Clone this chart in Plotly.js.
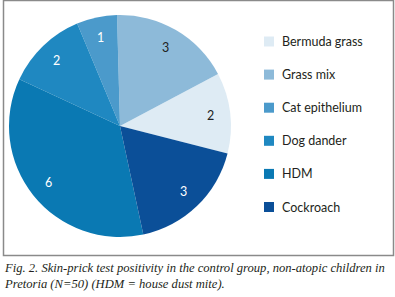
<!DOCTYPE html>
<html>
<head>
<meta charset="utf-8">
<script src="https://cdn.plot.ly/plotly-3.0.1.min.js"></script>
<style>html,body{margin:0;padding:0;background:#fff;}#chart{width:395px;height:297px;}</style>
</head>
<body>
<div id="chart"></div>
<script>
// Data (legend order, drawn counterclockwise)
const labels = ["Bermuda grass", "Grass mix", "Cat epithelium", "Dog dander", "HDM", "Cockroach"];
const values = [2, 3, 1, 2, 6, 3];
const colors = ["#deebf4", "#8dbad9", "#4b9acb", "#1f88c1", "#0a79b3", "#0b4f98"];
const textColors = ["#222222", "#222222", "#ffffff", "#ffffff", "#ffffff", "#ffffff"];
const caption = "Fig. 2. Skin-prick test positivity in the control group, non-atopic children in<br>Pretoria (N=50) (HDM = house dust mite).";

const W = 395, H = 297;
const px = x => x / W;
const py = y => 1 - y / H;

// pie geometry (pixels)
const CX = 120, CY = 126, R = 111, ROT = 62, LABEL_R = 0.82;

const shapes = [{
  type: "rect", xref: "paper", yref: "paper",
  x0: px(3.5), x1: px(393.5), y0: py(255.5), y1: py(0.5),
  line: {color: "#8a8a8a", width: 1.5}, fillcolor: "rgba(0,0,0,0)"
}];
const annotations = [];
const legTop = 41.5, legGap = 33.1;
labels.forEach((lab, i) => {
  const cy = legTop + i * legGap;
  shapes.push({
    type: "rect", xref: "paper", yref: "paper",
    x0: px(264), x1: px(274), y0: py(cy + 5), y1: py(cy - 5),
    line: {width: 0}, fillcolor: colors[i]
  });
  annotations.push({
    xref: "paper", yref: "paper", x: px(280), y: py(cy),
    xanchor: "left", yanchor: "middle", showarrow: false,
    text: lab, font: {family: "Lato, 'Open Sans', sans-serif", size: 12.5, color: "#231f20"}
  });
});

// slice value labels, placed along each slice's bisector (same angle logic as Plotly's counterclockwise pie)
const total = values.reduce((a, b) => a + b, 0);
let cum = 0;
values.forEach((v, i) => {
  const midDeg = ROT + values[0] / total * 360 - (cum + v / 2) / total * 360;
  cum += v;
  const a = midDeg * Math.PI / 180;
  const x = CX + LABEL_R * R * Math.sin(a);
  const y = CY - LABEL_R * R * Math.cos(a);
  annotations.push({
    xref: "paper", yref: "paper", x: px(x), y: py(y),
    xanchor: "center", yanchor: "middle", showarrow: false,
    text: String(v), font: {family: "Lato, 'Open Sans', sans-serif", size: 12.5, color: textColors[i]}
  });
});

annotations.push({
  xref: "paper", yref: "paper", x: px(2), y: py(259),
  xanchor: "left", yanchor: "top", showarrow: false, align: "left",
  text: caption,
  font: {family: "'Liberation Serif', 'DejaVu Serif', serif", size: 12.6, color: "#231f20", style: "italic"}
});

const trace = {
  type: "pie",
  labels: labels,
  values: values,
  sort: false,
  direction: "counterclockwise",
  rotation: ROT,
  marker: {colors: colors, line: {width: 0}},
  textinfo: "none",
  showlegend: false,
  hoverinfo: "label+value",
  domain: {x: [px(CX - R), px(CX + R)], y: [py(CY + R), py(CY - R)]}
};

Plotly.newPlot("chart", [trace], {
  width: W, height: H,
  margin: {l: 0, r: 0, t: 0, b: 0},
  paper_bgcolor: "#ffffff",
  showlegend: false,
  shapes: shapes,
  annotations: annotations
}, {displayModeBar: false, staticPlot: true});
</script>
</body>
</html>
